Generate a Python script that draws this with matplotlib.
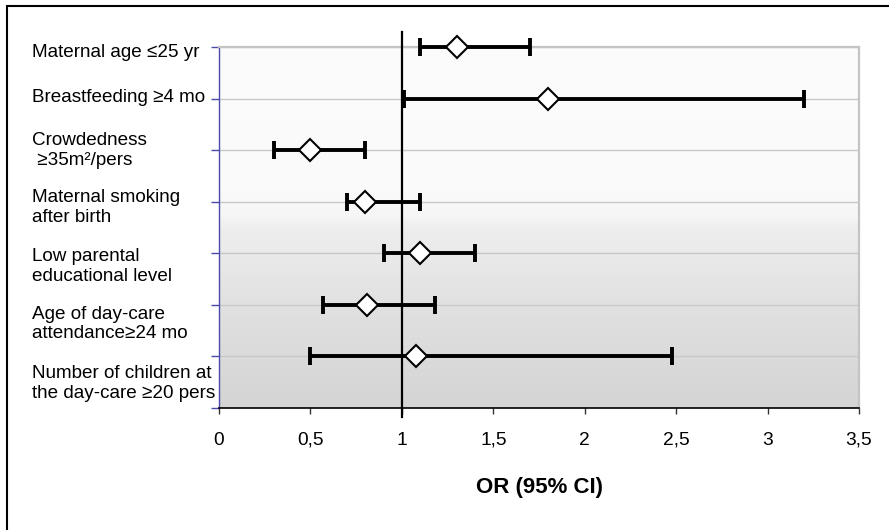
import numpy as np
import matplotlib
matplotlib.use("Agg")
import matplotlib.pyplot as plt
import matplotlib.transforms as mtransforms
from matplotlib.colors import LinearSegmentedColormap
from matplotlib.patches import Rectangle

plt.rcParams['font.family'] = ['Liberation Sans', 'DejaVu Sans']

# ---- data ----
categories = [
    "Maternal age \u226425 yr",
    "Breastfeeding \u22654 mo",
    "Crowdedness\n \u226535m\u00b2/pers",
    "Maternal smoking\nafter birth",
    "Low parental\neducational level",
    "Age of day-care\nattendance\u226524 mo",
    "Number of children at\nthe day-care \u226520 pers",
]
or_values = [1.30, 1.80, 0.50, 0.80, 1.10, 0.81, 1.08]
ci_lower = [1.10, 1.01, 0.30, 0.70, 0.90, 0.57, 0.50]
ci_upper = [1.70, 3.20, 0.80, 1.10, 1.40, 1.18, 2.48]
ref_value = 1.0
xticks = [0, 0.5, 1, 1.5, 2, 2.5, 3, 3.5]
xtick_labels = ["0", "0,5", "1", "1,5", "2", "2,5", "3", "3,5"]
xlabel = "OR (95% CI)"

# ---- figure ----
W, H = 889, 530
fig = plt.figure(figsize=(W / 100, H / 100), dpi=100)
fig.patch.set_facecolor("white")

# outer border (only top/left visible)
fig.patches.append(Rectangle((6.5 / W, -0.1), 1.2, 1 - 5.5 / H + 0.1,
                             transform=fig.transFigure, fill=False,
                             edgecolor="black", linewidth=1.5))

ax = fig.add_axes([219 / W, 1 - 408 / H, 640 / W, 361 / H])
n = len(categories)
ypos = np.arange(n, 0, -1)  # 7..1

ax.set_xlim(0, 3.5)
ax.set_ylim(0, n)

# gradient background
cmap = LinearSegmentedColormap.from_list(
    "bg", [(0.0, "#d4d4d4"), (0.30, "#e2e2e2"), (0.50, "#eeeeee"),
           (0.53, "#f6f6f6"), (0.60, "#fafafa"), (1.0, "#fcfcfc")])
grad = np.linspace(0, 1, 256).reshape(-1, 1)
ax.imshow(grad, extent=[0, 3.5, 0, n], origin="lower", aspect="auto",
          cmap=cmap, vmin=0, vmax=1, zorder=0)

# gridlines
for yy in range(0, n + 1):
    ax.axhline(yy, color="#c8c8c8", lw=1.0, zorder=1)

# reference line
ax.plot([ref_value, ref_value], [-0.17, n + 0.29], color="black", lw=1.6,
        clip_on=False, zorder=3)

# error bars
or_arr = np.array(or_values)
xerr = np.vstack([or_arr - np.array(ci_lower), np.array(ci_upper) - or_arr])
ax.errorbar(or_arr, ypos, xerr=xerr, fmt="none", ecolor="black",
            elinewidth=2.8, capsize=6.3, capthick=2.8, zorder=4, clip_on=False)
ax.plot(or_arr, ypos, linestyle="none", marker="D", markersize=11,
        markerfacecolor="white", markeredgecolor="black",
        markeredgewidth=1.5, zorder=5, clip_on=False)

# spines
ax.spines["left"].set_color("#4a4aa8")
ax.spines["left"].set_linewidth(1.0)
ax.spines["bottom"].set_color("black")
ax.spines["bottom"].set_linewidth(1.2)
ax.spines["top"].set_color("#c4c4c4")
ax.spines["top"].set_linewidth(1.6)
ax.spines["right"].set_color("#c4c4c4")
ax.spines["right"].set_linewidth(1.6)

ax.set_yticks(range(0, n + 1))
ax.set_yticklabels([])
ax.tick_params(axis="y", direction="out", length=5.5, width=1.0,
               color="#4a4aa8")
ax.set_xticks(xticks)
ax.set_xticklabels(xtick_labels, fontsize=13.8)
ax.tick_params(axis="x", direction="out", length=4, width=1.0,
               color="#333333", pad=13)

# category labels
trans = mtransforms.blended_transform_factory(fig.transFigure, ax.transData)
label_y = [6.9, 6.02, 5.0, 3.88, 2.75, 1.63, 0.48]
for lab, ly in zip(categories, label_y):
    ax.text(32 / W, ly, lab, transform=trans, ha="left", va="center",
            fontsize=13.6, linespacing=1.22, clip_on=False)

fig.text(539 / W, 1 - 488 / H, xlabel, ha="center", va="center",
         fontsize=16, fontweight="bold")

fig.savefig("out.png", dpi=100)
